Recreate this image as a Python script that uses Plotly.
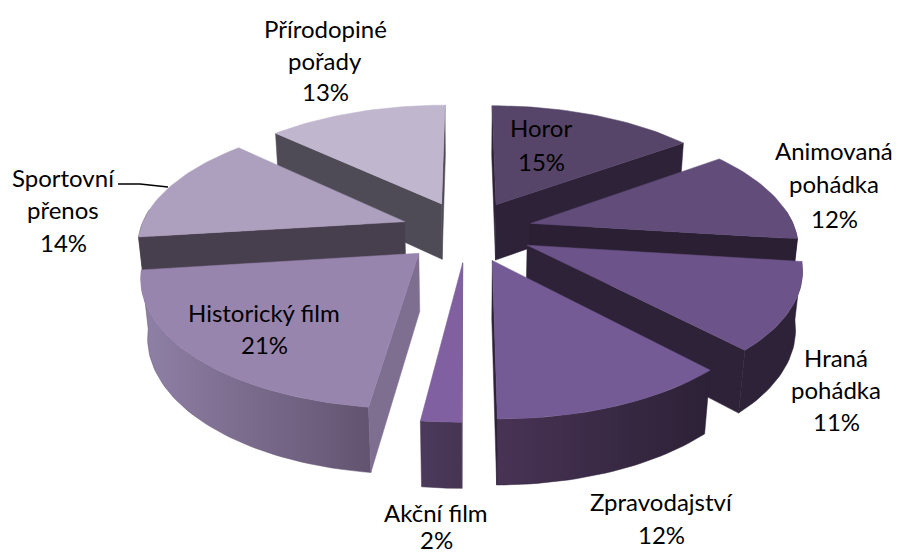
import math
import plotly.graph_objects as go

categories = ["Horor", "Animovaná pohádka", "Hraná pohádka", "Zpravodajství", "Akční film",
              "Historický film", "Sportovní přenos", "Přírodopiné pořady"]
values = [15, 12, 11, 12, 2, 21, 14, 13]

top_colors = ["#574569", "#614c7a", "#6c5389", "#755b95", "#8060a0", "#9885ae", "#ad9fbe", "#c0b7ce"]
radial_colors = ["#2e2239", "#2a1f33", "#2d2237", "#2e2239", "#4a3858", "#7e6f90", "#483f4e", "#4e4a56"]
wall_left = ["#2e2239", "#2a1f33", "#2d2237", "#483355", "#4c3a5c", "#8f80a6", "#6f6280", "#4e4a56"]
wall_right = ["#2e2239", "#2a1f33", "#2d2237", "#2c2136", "#463452", "#625470", "#483f4e", "#4e4a56"]

label_lines = [
    ("Horor", 541, 127), ("15%", 541, 161),
    ("Animovaná", 834, 150), ("pohádka", 834, 183), ("12%", 834, 218),
    ("Hraná", 836, 357), ("pohádka", 836, 389), ("11%", 836, 421),
    ("Zpravodajství", 661, 501), ("12%", 661, 534),
    ("Akční film", 436, 512), ("2%", 436, 539),
    ("Historický film", 264, 312), ("21%", 264, 344),
    ("Sportovní", 63, 177), ("přenos", 63, 209), ("14%", 63, 242),
    ("Přírodopiné", 325, 28), ("pořady", 325, 60), ("13%", 325, 91),
]
leader_x = [118, 140, 168]
leader_y = [184, 184, 187]

# projection of the pie disc
CX, CY = 467, 231
AX, BY, KV = 265, 122.5, 0.16
HZ, MZ = 58, 0.02
EXPLODE = 0.25


def project(u, v, z=0.0):
    d = 1 + KV * v + MZ * z
    return CX + AX * u / d, CY + (-BY * v + HZ * z) / d


def area(pts):
    return sum(pts[i][0] * pts[(i + 1) % len(pts)][1] - pts[(i + 1) % len(pts)][0] * pts[i][1]
               for i in range(len(pts)))


def add_poly(fig, pts, color=None, gradient=None):
    xs = [p[0] for p in pts] + [pts[0][0]]
    ys = [p[1] for p in pts] + [pts[0][1]]
    kw = dict(x=xs, y=ys, mode="lines", line=dict(width=0.5, color=color or gradient[1]),
              hoverinfo="skip", showlegend=False, fill="toself")
    if gradient:
        kw["fillgradient"] = dict(type="horizontal", colorscale=[[0, gradient[0]], [1, gradient[1]]])
    else:
        kw["fillcolor"] = color
    fig.add_trace(go.Scatter(**kw))


total = sum(values)
slices = []
start = 0.0
for i, val in enumerate(values):
    end = start + val / total * 2 * math.pi
    slices.append((i, start, end))
    start = end


def depth(s):
    mid = (s[1] + s[2]) / 2
    return -math.cos(mid)


fig = go.Figure()
for i, a0, a1 in sorted(slices, key=depth):
    mid = (a0 + a1) / 2
    eu, ev = EXPLODE * math.sin(mid), EXPLODE * math.cos(mid)
    n = max(8, int((a1 - a0) * 40))
    angles = [a0 + (a1 - a0) * t / n for t in range(n + 1)]
    rim = [(eu + math.sin(a), ev + math.cos(a)) for a in angles]
    top_rim = [project(u, v) for u, v in rim]
    bot_rim = [project(u, v, 1) for u, v in rim]
    apex_t, apex_b = project(eu, ev), project(eu, ev, 1)
    # outer wall: only its front-facing part
    front = [k for k, (u, v) in enumerate(rim) if math.cos(angles[k]) < 0.12]
    if len(front) > 1:
        lo, hi = front[0], front[-1]
        add_poly(fig, top_rim[lo:hi + 1] + bot_rim[lo:hi + 1][::-1], gradient=(wall_left[i], wall_right[i]))
    # radial faces, with back-face culling
    face0 = [apex_t, top_rim[0], bot_rim[0], apex_b]
    face1 = [apex_t, top_rim[-1], bot_rim[-1], apex_b]
    if area(face0) < 0:
        add_poly(fig, face0, color=radial_colors[i])
    if area(face1) > 0:
        add_poly(fig, face1, color=radial_colors[i])
    add_poly(fig, [apex_t] + top_rim, color=top_colors[i])

fig.add_trace(go.Scatter(x=leader_x, y=leader_y, mode="lines", line=dict(color="black", width=1.5),
                         hoverinfo="skip", showlegend=False))

for text, x, y in label_lines:
    fig.add_annotation(x=x, y=y, text=text, showarrow=False, xanchor="center", yanchor="middle",
                       font=dict(family="Lato", size=24, color="black"))

fig.update_layout(width=898, height=554, margin=dict(l=0, r=0, t=0, b=0),
                  paper_bgcolor="white", plot_bgcolor="white", showlegend=False,
                  xaxis=dict(range=[0, 898], visible=False, fixedrange=True),
                  yaxis=dict(range=[554, 0], visible=False, fixedrange=True))
fig.write_html("out.html", config={"displayModeBar": False},
               post_script="document.body.style.margin='0';document.body.style.overflow='hidden';")
